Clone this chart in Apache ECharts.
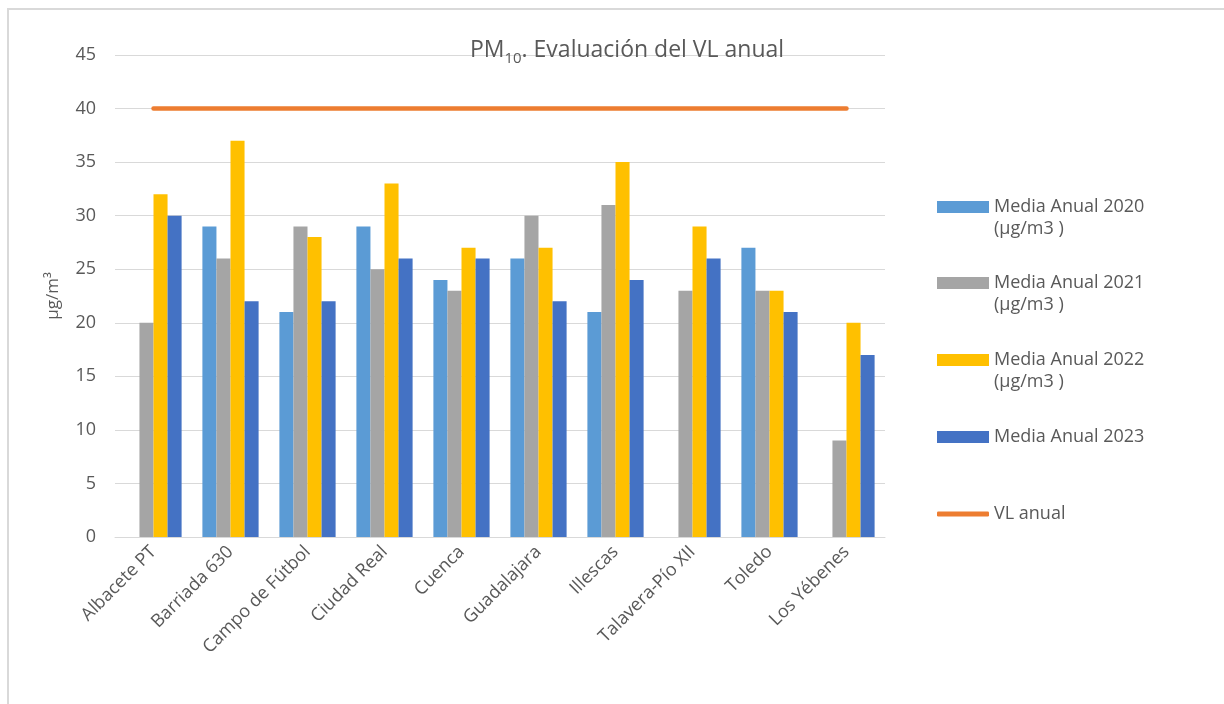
<!DOCTYPE html>
<html>
<head>
<meta charset="utf-8">
<script src="https://cdn.jsdelivr.net/npm/echarts@6/dist/echarts.min.js"></script>
<style>
html,body{margin:0;padding:0;background:#fff;}
#chart{width:1224px;height:704px;}
</style>
</head>
<body>
<div id="chart"></div>
<script>
var categories = ['Albacete PT','Barriada 630','Campo de Fútbol','Ciudad Real','Cuenca','Guadalajara','Illescas','Talavera-Pío XII','Toledo','Los Yébenes'];
var media2020 = ['-',29,21,29,24,26,21,'-',27,'-'];
var media2021 = [20,26,29,25,23,30,31,23,23,9];
var media2022 = [32,37,28,33,27,27,35,29,23,20];
var media2023 = [30,22,22,26,26,22,24,26,21,17];
var vlAnual = [40,40,40,40,40,40,40,40,40,40];
var yTicks = [0,5,10,15,20,25,30,35,40,45];

var FONT = '"Open Sans", sans-serif';
var TXT = '#595959';
var names = ['Media Anual 2020 (µg/m3 )','Media Anual 2021 (µg/m3 )','Media Anual 2022 (µg/m3 )','Media Anual 2023','VL anual'];
var colors = ['#5B9BD5','#A5A5A5','#FFC000','#4472C4','#ED7D31'];
var legendY = [207,283,360,437,514];

function firstLine(n){ return n.replace(' (µg/m3 )',''); }

var legends = names.map(function(n,i){
  return {
    data:[{name:n, icon: i===4 ? 'roundRect' : 'rect'}],
    left:937, top:legendY[i]-12, padding:0,
    itemWidth:52, itemHeight: i===4 ? 5 : 12, itemGap:5,
    formatter: firstLine,
    textStyle:{color:TXT, fontSize:18, fontFamily:FONT, lineHeight:24, padding:[0,0,0,0]},
    selectedMode:false
  };
});

var graphics = [
  {type:'rect', shape:{x:8,y:9,width:1400,height:900}, style:{fill:'none', stroke:'#d9d9d9', lineWidth:2}, z:-10, silent:true}
];
[0,1,2].forEach(function(i){
  graphics.push({type:'text', left:994, top:legendY[i]+26-13, style:{text:'(µg/m3 )', fill:TXT, font:'18px ' + FONT}});
});

var chart = echarts.init(document.getElementById('chart'), null, {renderer:'canvas'});
var barBase = {type:'bar', barGap:'0%', barCategoryGap:'27%'};
chart.setOption({
  animation:false,
  title:{
    text:'{a|PM}{s|10}{a|. Evaluación del VL anual}',
    left:622, top:30, textAlign:'center',
    textStyle:{rich:{
      a:{fontSize:23, color:TXT, fontFamily:FONT, fontWeight:'normal'},
      s:{fontSize:15, color:TXT, fontFamily:FONT, fontWeight:'normal', padding:[16,0,0,0]}
    }}
  },
  legend: legends,
  graphic: graphics,
  grid:{left:115, right:339, top:55, bottom:167},
  xAxis:{
    type:'category', data:categories,
    axisLine:{lineStyle:{color:'#d9d9d9', width:1}},
    axisTick:{show:false},
    axisLabel:{rotate:45, color:TXT, fontSize:18, fontFamily:FONT, margin:12, interval:0}
  },
  yAxis:{
    type:'value', min:yTicks[0], max:yTicks[yTicks.length-1], interval:5,
    name:'µg/m³', nameLocation:'middle', nameGap:53, nameRotate:90,
    nameTextStyle:{color:TXT, fontSize:17, fontFamily:FONT},
    axisLine:{show:false}, axisTick:{show:false},
    axisLabel:{color:TXT, fontSize:18, fontFamily:FONT, margin:19},
    splitLine:{lineStyle:{color:'#d9d9d9', width:1}}
  },
  series:[
    Object.assign({name:names[0], data:media2020, itemStyle:{color:colors[0]}}, barBase),
    Object.assign({name:names[1], data:media2021, itemStyle:{color:colors[1]}}, barBase),
    Object.assign({name:names[2], data:media2022, itemStyle:{color:colors[2]}}, barBase),
    Object.assign({name:names[3], data:media2023, itemStyle:{color:colors[3]}}, barBase),
    {name:names[4], type:'line', data:vlAnual, symbol:'none', showSymbol:false,
     lineStyle:{color:colors[4], width:4.5, cap:'round'}, itemStyle:{color:colors[4]}, z:5}
  ]
});
</script>
</body>
</html>
